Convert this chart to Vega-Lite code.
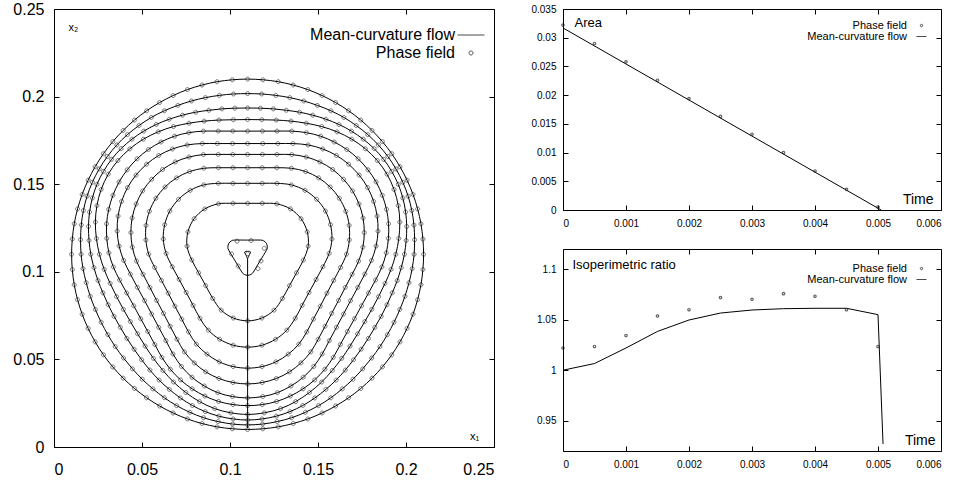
{
"$schema":"https://vega.github.io/schema/vega-lite/v6.json",
"padding":{"left":12,"top":0,"right":16,"bottom":5},
"config":{"font":"Liberation Sans","view":{"stroke":"black","strokeWidth":1},
"axis":{"grid":false,"domain":false,"tickColor":"black","tickWidth":1,"tickSize":-5,"labelColor":"black","titleColor":"black","labelFont":"Liberation Sans","titleFont":"Liberation Sans","titleFontWeight":"normal"},
"legend":{"orient":"none","title":null,"padding":0,"labelAlign":"right","labelColor":"black","labelFont":"Liberation Sans","labelLimit":400,"symbolStrokeColor":"black","symbolFillColor":"transparent","symbolStrokeWidth":1}},
"datasets":{
"curves":[
{"c":1,"a":0,"x":0.21,"y":0.11},{"c":1,"a":5,"x":0.2096,"y":0.1187},{"c":1,"a":10,"x":0.2085,"y":0.1274},{"c":1,"a":15,"x":0.2066,"y":0.1359},{"c":1,"a":20,"x":0.204,"y":0.1442},{"c":1,"a":25,"x":0.2006,"y":0.1523},{"c":1,"a":30,"x":0.1966,"y":0.16},{"c":1,"a":35,"x":0.1919,"y":0.1674},{"c":1,"a":40,"x":0.1866,"y":0.1743},{"c":1,"a":45,"x":0.1807,"y":0.1807},{"c":1,"a":50,"x":0.1743,"y":0.1866},{"c":1,"a":55,"x":0.1674,"y":0.1919},{"c":1,"a":60,"x":0.16,"y":0.1966},{"c":1,"a":65,"x":0.1523,"y":0.2006},{"c":1,"a":70,"x":0.1442,"y":0.204},{"c":1,"a":75,"x":0.1359,"y":0.2066},{"c":1,"a":80,"x":0.1274,"y":0.2085},{"c":1,"a":85,"x":0.1187,"y":0.2096},{"c":1,"a":90,"x":0.11,"y":0.21},{"c":1,"a":95,"x":0.1013,"y":0.2096},{"c":1,"a":100,"x":0.0926,"y":0.2085},{"c":1,"a":105,"x":0.0841,"y":0.2066},{"c":1,"a":110,"x":0.0758,"y":0.204},{"c":1,"a":115,"x":0.0677,"y":0.2006},{"c":1,"a":120,"x":0.06,"y":0.1966},{"c":1,"a":125,"x":0.0526,"y":0.1919},{"c":1,"a":130,"x":0.0457,"y":0.1866},{"c":1,"a":135,"x":0.0393,"y":0.1807},{"c":1,"a":140,"x":0.0334,"y":0.1743},{"c":1,"a":145,"x":0.0281,"y":0.1674},{"c":1,"a":150,"x":0.0234,"y":0.16},{"c":1,"a":155,"x":0.0194,"y":0.1523},{"c":1,"a":160,"x":0.016,"y":0.1442},{"c":1,"a":165,"x":0.0134,"y":0.1359},{"c":1,"a":170,"x":0.0115,"y":0.1274},{"c":1,"a":175,"x":0.0104,"y":0.1187},{"c":1,"a":180,"x":0.01,"y":0.11},{"c":1,"a":185,"x":0.0104,"y":0.1013},{"c":1,"a":190,"x":0.0115,"y":0.0926},{"c":1,"a":195,"x":0.0134,"y":0.0841},{"c":1,"a":200,"x":0.016,"y":0.0758},{"c":1,"a":205,"x":0.0194,"y":0.0677},{"c":1,"a":210,"x":0.0234,"y":0.06},{"c":1,"a":215,"x":0.0281,"y":0.0526},{"c":1,"a":220,"x":0.0334,"y":0.0457},{"c":1,"a":225,"x":0.0393,"y":0.0393},{"c":1,"a":230,"x":0.0457,"y":0.0334},{"c":1,"a":235,"x":0.0526,"y":0.0281},{"c":1,"a":240,"x":0.06,"y":0.0234},{"c":1,"a":245,"x":0.0677,"y":0.0194},{"c":1,"a":250,"x":0.0758,"y":0.016},{"c":1,"a":255,"x":0.0841,"y":0.0134},{"c":1,"a":260,"x":0.0926,"y":0.0115},{"c":1,"a":265,"x":0.1013,"y":0.0104},{"c":1,"a":270,"x":0.11,"y":0.01},{"c":1,"a":275,"x":0.1187,"y":0.0104},{"c":1,"a":280,"x":0.1274,"y":0.0115},{"c":1,"a":285,"x":0.1359,"y":0.0134},{"c":1,"a":290,"x":0.1442,"y":0.016},{"c":1,"a":295,"x":0.1523,"y":0.0194},{"c":1,"a":300,"x":0.16,"y":0.0234},{"c":1,"a":305,"x":0.1674,"y":0.0281},{"c":1,"a":310,"x":0.1743,"y":0.0334},{"c":1,"a":315,"x":0.1807,"y":0.0393},{"c":1,"a":320,"x":0.1866,"y":0.0457},{"c":1,"a":325,"x":0.1919,"y":0.0526},{"c":1,"a":330,"x":0.1966,"y":0.06},{"c":1,"a":335,"x":0.2006,"y":0.0677},{"c":1,"a":340,"x":0.204,"y":0.0758},{"c":1,"a":345,"x":0.2066,"y":0.0841},{"c":1,"a":350,"x":0.2085,"y":0.0926},{"c":1,"a":355,"x":0.2096,"y":0.1013},
{"c":2,"a":-90,"x":0.11,"y":0.0126},{"c":2,"a":-85,"x":0.1185,"y":0.0131},{"c":2,"a":-80,"x":0.1268,"y":0.0145},{"c":2,"a":-75,"x":0.135,"y":0.0167},{"c":2,"a":-70,"x":0.1428,"y":0.0198},{"c":2,"a":-65,"x":0.1503,"y":0.0236},{"c":2,"a":-60,"x":0.1573,"y":0.0281},{"c":2,"a":-55,"x":0.1638,"y":0.0332},{"c":2,"a":-50,"x":0.1699,"y":0.0387},{"c":2,"a":-45,"x":0.1754,"y":0.0446},{"c":2,"a":-40,"x":0.1805,"y":0.0508},{"c":2,"a":-35,"x":0.1852,"y":0.0573},{"c":2,"a":-30,"x":0.1894,"y":0.0641},{"c":2,"a":-25,"x":0.1932,"y":0.0712},{"c":2,"a":-20,"x":0.1965,"y":0.0785},{"c":2,"a":-15,"x":0.1994,"y":0.086},{"c":2,"a":-10,"x":0.2017,"y":0.0938},{"c":2,"a":-5,"x":0.2035,"y":0.1018},{"c":2,"a":0,"x":0.2046,"y":0.11},{"c":2,"a":5,"x":0.2049,"y":0.1183},{"c":2,"a":10,"x":0.2045,"y":0.1267},{"c":2,"a":15,"x":0.2033,"y":0.135},{"c":2,"a":20,"x":0.2012,"y":0.1432},{"c":2,"a":25,"x":0.1982,"y":0.1511},{"c":2,"a":30,"x":0.1943,"y":0.1587},{"c":2,"a":35,"x":0.1897,"y":0.1658},{"c":2,"a":40,"x":0.1843,"y":0.1724},{"c":2,"a":45,"x":0.1783,"y":0.1783},{"c":2,"a":50,"x":0.1717,"y":0.1835},{"c":2,"a":55,"x":0.1647,"y":0.1881},{"c":2,"a":60,"x":0.1573,"y":0.1919},{"c":2,"a":65,"x":0.1496,"y":0.195},{"c":2,"a":70,"x":0.1419,"y":0.1975},{"c":2,"a":75,"x":0.134,"y":0.1994},{"c":2,"a":80,"x":0.126,"y":0.2007},{"c":2,"a":85,"x":0.118,"y":0.2015},{"c":2,"a":90,"x":0.11,"y":0.2017},{"c":2,"a":95,"x":0.102,"y":0.2015},{"c":2,"a":100,"x":0.094,"y":0.2007},{"c":2,"a":105,"x":0.086,"y":0.1994},{"c":2,"a":110,"x":0.0781,"y":0.1975},{"c":2,"a":115,"x":0.0704,"y":0.195},{"c":2,"a":120,"x":0.0627,"y":0.1919},{"c":2,"a":125,"x":0.0553,"y":0.1881},{"c":2,"a":130,"x":0.0483,"y":0.1835},{"c":2,"a":135,"x":0.0417,"y":0.1783},{"c":2,"a":140,"x":0.0357,"y":0.1724},{"c":2,"a":145,"x":0.0303,"y":0.1658},{"c":2,"a":150,"x":0.0257,"y":0.1587},{"c":2,"a":155,"x":0.0218,"y":0.1511},{"c":2,"a":160,"x":0.0188,"y":0.1432},{"c":2,"a":165,"x":0.0167,"y":0.135},{"c":2,"a":170,"x":0.0155,"y":0.1267},{"c":2,"a":175,"x":0.0151,"y":0.1183},{"c":2,"a":180,"x":0.0154,"y":0.11},{"c":2,"a":185,"x":0.0165,"y":0.1018},{"c":2,"a":190,"x":0.0183,"y":0.0938},{"c":2,"a":195,"x":0.0206,"y":0.086},{"c":2,"a":200,"x":0.0235,"y":0.0785},{"c":2,"a":205,"x":0.0268,"y":0.0712},{"c":2,"a":210,"x":0.0306,"y":0.0641},{"c":2,"a":215,"x":0.0348,"y":0.0573},{"c":2,"a":220,"x":0.0395,"y":0.0508},{"c":2,"a":225,"x":0.0446,"y":0.0446},{"c":2,"a":230,"x":0.0501,"y":0.0387},{"c":2,"a":235,"x":0.0562,"y":0.0332},{"c":2,"a":240,"x":0.0627,"y":0.0281},{"c":2,"a":245,"x":0.0697,"y":0.0236},{"c":2,"a":250,"x":0.0772,"y":0.0198},{"c":2,"a":255,"x":0.085,"y":0.0167},{"c":2,"a":260,"x":0.0932,"y":0.0145},{"c":2,"a":265,"x":0.1015,"y":0.0131},
{"c":3,"a":-90,"x":0.11,"y":0.0154},{"c":3,"a":-85,"x":0.1182,"y":0.016},{"c":3,"a":-80,"x":0.1263,"y":0.0176},{"c":3,"a":-75,"x":0.1341,"y":0.0202},{"c":3,"a":-70,"x":0.1414,"y":0.0237},{"c":3,"a":-65,"x":0.1482,"y":0.028},{"c":3,"a":-60,"x":0.1545,"y":0.0329},{"c":3,"a":-55,"x":0.1603,"y":0.0382},{"c":3,"a":-50,"x":0.1655,"y":0.0439},{"c":3,"a":-45,"x":0.1702,"y":0.0498},{"c":3,"a":-40,"x":0.1745,"y":0.0558},{"c":3,"a":-35,"x":0.1786,"y":0.062},{"c":3,"a":-30,"x":0.1823,"y":0.0683},{"c":3,"a":-25,"x":0.1859,"y":0.0746},{"c":3,"a":-20,"x":0.1892,"y":0.0812},{"c":3,"a":-15,"x":0.1922,"y":0.088},{"c":3,"a":-10,"x":0.195,"y":0.095},{"c":3,"a":-5,"x":0.1973,"y":0.1024},{"c":3,"a":0,"x":0.1991,"y":0.11},{"c":3,"a":5,"x":0.2001,"y":0.1179},{"c":3,"a":10,"x":0.2004,"y":0.1259},{"c":3,"a":15,"x":0.1998,"y":0.1341},{"c":3,"a":20,"x":0.1982,"y":0.1421},{"c":3,"a":25,"x":0.1956,"y":0.1499},{"c":3,"a":30,"x":0.1919,"y":0.1573},{"c":3,"a":35,"x":0.1873,"y":0.1642},{"c":3,"a":40,"x":0.1819,"y":0.1703},{"c":3,"a":45,"x":0.1757,"y":0.1757},{"c":3,"a":50,"x":0.169,"y":0.1803},{"c":3,"a":55,"x":0.1619,"y":0.1841},{"c":3,"a":60,"x":0.1545,"y":0.1871},{"c":3,"a":65,"x":0.147,"y":0.1894},{"c":3,"a":70,"x":0.1395,"y":0.1911},{"c":3,"a":75,"x":0.132,"y":0.1922},{"c":3,"a":80,"x":0.1246,"y":0.193},{"c":3,"a":85,"x":0.1173,"y":0.1934},{"c":3,"a":90,"x":0.11,"y":0.1935},{"c":3,"a":95,"x":0.1027,"y":0.1934},{"c":3,"a":100,"x":0.0954,"y":0.193},{"c":3,"a":105,"x":0.088,"y":0.1922},{"c":3,"a":110,"x":0.0805,"y":0.1911},{"c":3,"a":115,"x":0.073,"y":0.1894},{"c":3,"a":120,"x":0.0655,"y":0.1871},{"c":3,"a":125,"x":0.0581,"y":0.1841},{"c":3,"a":130,"x":0.051,"y":0.1803},{"c":3,"a":135,"x":0.0443,"y":0.1757},{"c":3,"a":140,"x":0.0381,"y":0.1703},{"c":3,"a":145,"x":0.0327,"y":0.1642},{"c":3,"a":150,"x":0.0281,"y":0.1573},{"c":3,"a":155,"x":0.0244,"y":0.1499},{"c":3,"a":160,"x":0.0218,"y":0.1421},{"c":3,"a":165,"x":0.0202,"y":0.1341},{"c":3,"a":170,"x":0.0196,"y":0.1259},{"c":3,"a":175,"x":0.0199,"y":0.1179},{"c":3,"a":180,"x":0.0209,"y":0.11},{"c":3,"a":185,"x":0.0227,"y":0.1024},{"c":3,"a":190,"x":0.025,"y":0.095},{"c":3,"a":195,"x":0.0278,"y":0.088},{"c":3,"a":200,"x":0.0308,"y":0.0812},{"c":3,"a":205,"x":0.0341,"y":0.0746},{"c":3,"a":210,"x":0.0377,"y":0.0683},{"c":3,"a":215,"x":0.0414,"y":0.062},{"c":3,"a":220,"x":0.0455,"y":0.0558},{"c":3,"a":225,"x":0.0498,"y":0.0498},{"c":3,"a":230,"x":0.0545,"y":0.0439},{"c":3,"a":235,"x":0.0597,"y":0.0382},{"c":3,"a":240,"x":0.0655,"y":0.0329},{"c":3,"a":245,"x":0.0718,"y":0.028},{"c":3,"a":250,"x":0.0786,"y":0.0237},{"c":3,"a":255,"x":0.0859,"y":0.0202},{"c":3,"a":260,"x":0.0937,"y":0.0176},{"c":3,"a":265,"x":0.1018,"y":0.016},
{"c":4,"a":-90,"x":0.11,"y":0.0186},{"c":4,"a":-84,"x":0.1195,"y":0.0195},{"c":4,"a":-78,"x":0.1287,"y":0.0219},{"c":4,"a":-72,"x":0.1373,"y":0.0259},{"c":4,"a":-66,"x":0.1451,"y":0.0311},{"c":4,"a":-60,"x":0.1521,"y":0.0371},{"c":4,"a":-54,"x":0.1581,"y":0.0437},{"c":4,"a":-48,"x":0.1635,"y":0.0506},{"c":4,"a":-42,"x":0.1682,"y":0.0576},{"c":4,"a":-36,"x":0.1725,"y":0.0646},{"c":4,"a":-30,"x":0.1766,"y":0.0716},{"c":4,"a":-24,"x":0.1806,"y":0.0786},{"c":4,"a":-18,"x":0.1844,"y":0.0858},{"c":4,"a":-12,"x":0.1881,"y":0.0934},{"c":4,"a":-6,"x":0.1915,"y":0.1014},{"c":4,"a":0,"x":0.1942,"y":0.11},{"c":4,"a":6,"x":0.1959,"y":0.119},{"c":4,"a":12,"x":0.1965,"y":0.1284},{"c":4,"a":18,"x":0.1956,"y":0.1378},{"c":4,"a":24,"x":0.1932,"y":0.147},{"c":4,"a":30,"x":0.1892,"y":0.1557},{"c":4,"a":36,"x":0.1837,"y":0.1635},{"c":4,"a":42,"x":0.1769,"y":0.1702},{"c":4,"a":48,"x":0.1692,"y":0.1757},{"c":4,"a":54,"x":0.1608,"y":0.1799},{"c":4,"a":60,"x":0.1521,"y":0.1829},{"c":4,"a":66,"x":0.1433,"y":0.1848},{"c":4,"a":72,"x":0.1347,"y":0.186},{"c":4,"a":78,"x":0.1263,"y":0.1866},{"c":4,"a":84,"x":0.1181,"y":0.1868},{"c":4,"a":90,"x":0.11,"y":0.1869},{"c":4,"a":96,"x":0.1019,"y":0.1868},{"c":4,"a":102,"x":0.0937,"y":0.1866},{"c":4,"a":108,"x":0.0853,"y":0.186},{"c":4,"a":114,"x":0.0767,"y":0.1848},{"c":4,"a":120,"x":0.0679,"y":0.1829},{"c":4,"a":126,"x":0.0592,"y":0.1799},{"c":4,"a":132,"x":0.0508,"y":0.1757},{"c":4,"a":138,"x":0.0431,"y":0.1702},{"c":4,"a":144,"x":0.0363,"y":0.1635},{"c":4,"a":150,"x":0.0308,"y":0.1557},{"c":4,"a":156,"x":0.0268,"y":0.147},{"c":4,"a":162,"x":0.0244,"y":0.1378},{"c":4,"a":168,"x":0.0235,"y":0.1284},{"c":4,"a":174,"x":0.0241,"y":0.119},{"c":4,"a":180,"x":0.0258,"y":0.11},{"c":4,"a":186,"x":0.0285,"y":0.1014},{"c":4,"a":192,"x":0.0319,"y":0.0934},{"c":4,"a":198,"x":0.0356,"y":0.0858},{"c":4,"a":204,"x":0.0394,"y":0.0786},{"c":4,"a":210,"x":0.0434,"y":0.0716},{"c":4,"a":216,"x":0.0475,"y":0.0646},{"c":4,"a":222,"x":0.0518,"y":0.0576},{"c":4,"a":228,"x":0.0565,"y":0.0506},{"c":4,"a":234,"x":0.0619,"y":0.0437},{"c":4,"a":240,"x":0.0679,"y":0.0371},{"c":4,"a":246,"x":0.0749,"y":0.0311},{"c":4,"a":252,"x":0.0827,"y":0.0259},{"c":4,"a":258,"x":0.0913,"y":0.0219},{"c":4,"a":264,"x":0.1005,"y":0.0195},
{"c":5,"a":0,"x":0.11,"y":0.1803},{"c":5,"a":1,"x":0.1184,"y":0.1803},{"c":5,"a":2,"x":0.1267,"y":0.1803},{"c":5,"a":3,"x":0.1351,"y":0.1803},{"c":5,"a":4,"x":0.1434,"y":0.1794},{"c":5,"a":5,"x":0.1515,"y":0.1774},{"c":5,"a":6,"x":0.1592,"y":0.1741},{"c":5,"a":7,"x":0.1664,"y":0.1698},{"c":5,"a":8,"x":0.1728,"y":0.1645},{"c":5,"a":9,"x":0.1784,"y":0.1582},{"c":5,"a":10,"x":0.183,"y":0.1513},{"c":5,"a":11,"x":0.1865,"y":0.1437},{"c":5,"a":12,"x":0.1889,"y":0.1357},{"c":5,"a":13,"x":0.1901,"y":0.1274},{"c":5,"a":14,"x":0.19,"y":0.1191},{"c":5,"a":15,"x":0.1888,"y":0.1108},{"c":5,"a":16,"x":0.1863,"y":0.1028},{"c":5,"a":17,"x":0.1827,"y":0.0953},{"c":5,"a":18,"x":0.1787,"y":0.0879},{"c":5,"a":19,"x":0.1747,"y":0.0806},{"c":5,"a":20,"x":0.1707,"y":0.0732},{"c":5,"a":21,"x":0.1667,"y":0.0659},{"c":5,"a":22,"x":0.1627,"y":0.0585},{"c":5,"a":23,"x":0.1587,"y":0.0512},{"c":5,"a":24,"x":0.1539,"y":0.0444},{"c":5,"a":25,"x":0.1481,"y":0.0383},{"c":5,"a":26,"x":0.1415,"y":0.0332},{"c":5,"a":27,"x":0.1343,"y":0.0291},{"c":5,"a":28,"x":0.1265,"y":0.026},{"c":5,"a":29,"x":0.1183,"y":0.0242},{"c":5,"a":30,"x":0.11,"y":0.0236},{"c":5,"a":31,"x":0.1017,"y":0.0242},{"c":5,"a":32,"x":0.0935,"y":0.026},{"c":5,"a":33,"x":0.0857,"y":0.0291},{"c":5,"a":34,"x":0.0785,"y":0.0332},{"c":5,"a":35,"x":0.0719,"y":0.0383},{"c":5,"a":36,"x":0.0661,"y":0.0444},{"c":5,"a":37,"x":0.0613,"y":0.0512},{"c":5,"a":38,"x":0.0573,"y":0.0585},{"c":5,"a":39,"x":0.0533,"y":0.0659},{"c":5,"a":40,"x":0.0493,"y":0.0732},{"c":5,"a":41,"x":0.0453,"y":0.0806},{"c":5,"a":42,"x":0.0413,"y":0.0879},{"c":5,"a":43,"x":0.0373,"y":0.0953},{"c":5,"a":44,"x":0.0337,"y":0.1028},{"c":5,"a":45,"x":0.0312,"y":0.1108},{"c":5,"a":46,"x":0.03,"y":0.1191},{"c":5,"a":47,"x":0.0299,"y":0.1274},{"c":5,"a":48,"x":0.0311,"y":0.1357},{"c":5,"a":49,"x":0.0335,"y":0.1437},{"c":5,"a":50,"x":0.037,"y":0.1513},{"c":5,"a":51,"x":0.0416,"y":0.1582},{"c":5,"a":52,"x":0.0472,"y":0.1645},{"c":5,"a":53,"x":0.0536,"y":0.1698},{"c":5,"a":54,"x":0.0608,"y":0.1741},{"c":5,"a":55,"x":0.0685,"y":0.1774},{"c":5,"a":56,"x":0.0766,"y":0.1794},{"c":5,"a":57,"x":0.0849,"y":0.1803},{"c":5,"a":58,"x":0.0933,"y":0.1803},{"c":5,"a":59,"x":0.1016,"y":0.1803},
{"c":6,"a":0,"x":0.11,"y":0.1732},{"c":6,"a":1,"x":0.1186,"y":0.1732},{"c":6,"a":2,"x":0.1272,"y":0.1732},{"c":6,"a":3,"x":0.1358,"y":0.1732},{"c":6,"a":4,"x":0.1444,"y":0.1724},{"c":6,"a":5,"x":0.1527,"y":0.1701},{"c":6,"a":6,"x":0.1605,"y":0.1664},{"c":6,"a":7,"x":0.1674,"y":0.1614},{"c":6,"a":8,"x":0.1734,"y":0.1552},{"c":6,"a":9,"x":0.1782,"y":0.1481},{"c":6,"a":10,"x":0.1816,"y":0.1402},{"c":6,"a":11,"x":0.1836,"y":0.1318},{"c":6,"a":12,"x":0.1841,"y":0.1232},{"c":6,"a":13,"x":0.183,"y":0.1147},{"c":6,"a":14,"x":0.1804,"y":0.1065},{"c":6,"a":15,"x":0.1766,"y":0.0987},{"c":6,"a":16,"x":0.1726,"y":0.0911},{"c":6,"a":17,"x":0.1685,"y":0.0835},{"c":6,"a":18,"x":0.1645,"y":0.0759},{"c":6,"a":19,"x":0.1605,"y":0.0683},{"c":6,"a":20,"x":0.1564,"y":0.0607},{"c":6,"a":21,"x":0.1524,"y":0.0531},{"c":6,"a":22,"x":0.1476,"y":0.046},{"c":6,"a":23,"x":0.1416,"y":0.0398},{"c":6,"a":24,"x":0.1346,"y":0.0348},{"c":6,"a":25,"x":0.1269,"y":0.031},{"c":6,"a":26,"x":0.1186,"y":0.0288},{"c":6,"a":27,"x":0.11,"y":0.028},{"c":6,"a":28,"x":0.1014,"y":0.0288},{"c":6,"a":29,"x":0.0931,"y":0.031},{"c":6,"a":30,"x":0.0854,"y":0.0348},{"c":6,"a":31,"x":0.0784,"y":0.0398},{"c":6,"a":32,"x":0.0724,"y":0.046},{"c":6,"a":33,"x":0.0676,"y":0.0531},{"c":6,"a":34,"x":0.0636,"y":0.0607},{"c":6,"a":35,"x":0.0595,"y":0.0683},{"c":6,"a":36,"x":0.0555,"y":0.0759},{"c":6,"a":37,"x":0.0515,"y":0.0835},{"c":6,"a":38,"x":0.0474,"y":0.0911},{"c":6,"a":39,"x":0.0434,"y":0.0987},{"c":6,"a":40,"x":0.0396,"y":0.1065},{"c":6,"a":41,"x":0.037,"y":0.1147},{"c":6,"a":42,"x":0.0359,"y":0.1232},{"c":6,"a":43,"x":0.0364,"y":0.1318},{"c":6,"a":44,"x":0.0384,"y":0.1402},{"c":6,"a":45,"x":0.0418,"y":0.1481},{"c":6,"a":46,"x":0.0466,"y":0.1552},{"c":6,"a":47,"x":0.0526,"y":0.1614},{"c":6,"a":48,"x":0.0595,"y":0.1664},{"c":6,"a":49,"x":0.0673,"y":0.1701},{"c":6,"a":50,"x":0.0756,"y":0.1724},{"c":6,"a":51,"x":0.0842,"y":0.1732},{"c":6,"a":52,"x":0.0928,"y":0.1732},{"c":6,"a":53,"x":0.1014,"y":0.1732},
{"c":7,"a":0,"x":0.11,"y":0.167},{"c":7,"a":1,"x":0.1184,"y":0.167},{"c":7,"a":2,"x":0.1267,"y":0.167},{"c":7,"a":3,"x":0.1351,"y":0.1669},{"c":7,"a":4,"x":0.1433,"y":0.1655},{"c":7,"a":5,"x":0.1511,"y":0.1627},{"c":7,"a":6,"x":0.1583,"y":0.1584},{"c":7,"a":7,"x":0.1645,"y":0.1528},{"c":7,"a":8,"x":0.1696,"y":0.1462},{"c":7,"a":9,"x":0.1733,"y":0.1387},{"c":7,"a":10,"x":0.1756,"y":0.1307},{"c":7,"a":11,"x":0.1763,"y":0.1224},{"c":7,"a":12,"x":0.1755,"y":0.1141},{"c":7,"a":13,"x":0.1731,"y":0.1061},{"c":7,"a":14,"x":0.1694,"y":0.0986},{"c":7,"a":15,"x":0.1655,"y":0.0911},{"c":7,"a":16,"x":0.1617,"y":0.0837},{"c":7,"a":17,"x":0.1578,"y":0.0763},{"c":7,"a":18,"x":0.154,"y":0.0689},{"c":7,"a":19,"x":0.1501,"y":0.0615},{"c":7,"a":20,"x":0.1459,"y":0.0543},{"c":7,"a":21,"x":0.1403,"y":0.048},{"c":7,"a":22,"x":0.1338,"y":0.0429},{"c":7,"a":23,"x":0.1263,"y":0.0391},{"c":7,"a":24,"x":0.1183,"y":0.0368},{"c":7,"a":25,"x":0.11,"y":0.036},{"c":7,"a":26,"x":0.1017,"y":0.0368},{"c":7,"a":27,"x":0.0937,"y":0.0391},{"c":7,"a":28,"x":0.0862,"y":0.0429},{"c":7,"a":29,"x":0.0797,"y":0.048},{"c":7,"a":30,"x":0.0741,"y":0.0543},{"c":7,"a":31,"x":0.0699,"y":0.0615},{"c":7,"a":32,"x":0.066,"y":0.0689},{"c":7,"a":33,"x":0.0622,"y":0.0763},{"c":7,"a":34,"x":0.0583,"y":0.0837},{"c":7,"a":35,"x":0.0545,"y":0.0911},{"c":7,"a":36,"x":0.0506,"y":0.0986},{"c":7,"a":37,"x":0.0469,"y":0.1061},{"c":7,"a":38,"x":0.0445,"y":0.1141},{"c":7,"a":39,"x":0.0437,"y":0.1224},{"c":7,"a":40,"x":0.0444,"y":0.1307},{"c":7,"a":41,"x":0.0467,"y":0.1387},{"c":7,"a":42,"x":0.0504,"y":0.1462},{"c":7,"a":43,"x":0.0555,"y":0.1528},{"c":7,"a":44,"x":0.0617,"y":0.1584},{"c":7,"a":45,"x":0.0689,"y":0.1627},{"c":7,"a":46,"x":0.0767,"y":0.1655},{"c":7,"a":47,"x":0.0849,"y":0.1669},{"c":7,"a":48,"x":0.0933,"y":0.167},{"c":7,"a":49,"x":0.1016,"y":0.167},
{"c":8,"a":0,"x":0.11,"y":0.1594},{"c":8,"a":1,"x":0.1183,"y":0.1594},{"c":8,"a":2,"x":0.1266,"y":0.1594},{"c":8,"a":3,"x":0.1349,"y":0.1591},{"c":8,"a":4,"x":0.143,"y":0.1572},{"c":8,"a":5,"x":0.1504,"y":0.1536},{"c":8,"a":6,"x":0.1569,"y":0.1484},{"c":8,"a":7,"x":0.1621,"y":0.142},{"c":8,"a":8,"x":0.1658,"y":0.1345},{"c":8,"a":9,"x":0.1677,"y":0.1265},{"c":8,"a":10,"x":0.1678,"y":0.1182},{"c":8,"a":11,"x":0.1662,"y":0.1101},{"c":8,"a":12,"x":0.1628,"y":0.1025},{"c":8,"a":13,"x":0.1589,"y":0.0951},{"c":8,"a":14,"x":0.1551,"y":0.0878},{"c":8,"a":15,"x":0.1513,"y":0.0804},{"c":8,"a":16,"x":0.1474,"y":0.073},{"c":8,"a":17,"x":0.1436,"y":0.0657},{"c":8,"a":18,"x":0.1391,"y":0.0587},{"c":8,"a":19,"x":0.1331,"y":0.053},{"c":8,"a":20,"x":0.1261,"y":0.0486},{"c":8,"a":21,"x":0.1182,"y":0.0459},{"c":8,"a":22,"x":0.11,"y":0.045},{"c":8,"a":23,"x":0.1018,"y":0.0459},{"c":8,"a":24,"x":0.0939,"y":0.0486},{"c":8,"a":25,"x":0.0869,"y":0.053},{"c":8,"a":26,"x":0.0809,"y":0.0587},{"c":8,"a":27,"x":0.0764,"y":0.0657},{"c":8,"a":28,"x":0.0726,"y":0.073},{"c":8,"a":29,"x":0.0687,"y":0.0804},{"c":8,"a":30,"x":0.0649,"y":0.0878},{"c":8,"a":31,"x":0.0611,"y":0.0951},{"c":8,"a":32,"x":0.0572,"y":0.1025},{"c":8,"a":33,"x":0.0538,"y":0.1101},{"c":8,"a":34,"x":0.0522,"y":0.1182},{"c":8,"a":35,"x":0.0523,"y":0.1265},{"c":8,"a":36,"x":0.0542,"y":0.1345},{"c":8,"a":37,"x":0.0579,"y":0.142},{"c":8,"a":38,"x":0.0631,"y":0.1484},{"c":8,"a":39,"x":0.0696,"y":0.1536},{"c":8,"a":40,"x":0.077,"y":0.1572},{"c":8,"a":41,"x":0.0851,"y":0.1591},{"c":8,"a":42,"x":0.0934,"y":0.1594},{"c":8,"a":43,"x":0.1017,"y":0.1594},
{"c":9,"a":0,"x":0.11,"y":0.1505},{"c":9,"a":1,"x":0.1183,"y":0.1505},{"c":9,"a":2,"x":0.1267,"y":0.1505},{"c":9,"a":3,"x":0.1349,"y":0.1496},{"c":9,"a":4,"x":0.1426,"y":0.1465},{"c":9,"a":5,"x":0.1492,"y":0.1414},{"c":9,"a":6,"x":0.1542,"y":0.1347},{"c":9,"a":7,"x":0.1571,"y":0.1269},{"c":9,"a":8,"x":0.1579,"y":0.1187},{"c":9,"a":9,"x":0.1563,"y":0.1105},{"c":9,"a":10,"x":0.1528,"y":0.1029},{"c":9,"a":11,"x":0.1489,"y":0.0956},{"c":9,"a":12,"x":0.1449,"y":0.0882},{"c":9,"a":13,"x":0.141,"y":0.0809},{"c":9,"a":14,"x":0.1371,"y":0.0735},{"c":9,"a":15,"x":0.1323,"y":0.0667},{"c":9,"a":16,"x":0.1259,"y":0.0615},{"c":9,"a":17,"x":0.1182,"y":0.0581},{"c":9,"a":18,"x":0.11,"y":0.057},{"c":9,"a":19,"x":0.1018,"y":0.0581},{"c":9,"a":20,"x":0.0941,"y":0.0615},{"c":9,"a":21,"x":0.0877,"y":0.0667},{"c":9,"a":22,"x":0.0829,"y":0.0735},{"c":9,"a":23,"x":0.079,"y":0.0809},{"c":9,"a":24,"x":0.0751,"y":0.0882},{"c":9,"a":25,"x":0.0711,"y":0.0956},{"c":9,"a":26,"x":0.0672,"y":0.1029},{"c":9,"a":27,"x":0.0637,"y":0.1105},{"c":9,"a":28,"x":0.0621,"y":0.1187},{"c":9,"a":29,"x":0.0629,"y":0.1269},{"c":9,"a":30,"x":0.0658,"y":0.1347},{"c":9,"a":31,"x":0.0708,"y":0.1414},{"c":9,"a":32,"x":0.0774,"y":0.1465},{"c":9,"a":33,"x":0.0851,"y":0.1496},{"c":9,"a":34,"x":0.0933,"y":0.1505},{"c":9,"a":35,"x":0.1017,"y":0.1505},
{"c":10,"a":0,"x":0.11,"y":0.1391},{"c":10,"a":1,"x":0.1183,"y":0.1391},{"c":10,"a":2,"x":0.1266,"y":0.1388},{"c":10,"a":3,"x":0.1343,"y":0.1359},{"c":10,"a":4,"x":0.1404,"y":0.1303},{"c":10,"a":5,"x":0.1439,"y":0.1228},{"c":10,"a":6,"x":0.1444,"y":0.1146},{"c":10,"a":7,"x":0.1417,"y":0.1067},{"c":10,"a":8,"x":0.1378,"y":0.0994},{"c":10,"a":9,"x":0.1338,"y":0.0921},{"c":10,"a":10,"x":0.1298,"y":0.0848},{"c":10,"a":11,"x":0.125,"y":0.0781},{"c":10,"a":12,"x":0.1181,"y":0.0736},{"c":10,"a":13,"x":0.11,"y":0.072},{"c":10,"a":14,"x":0.1019,"y":0.0736},{"c":10,"a":15,"x":0.095,"y":0.0781},{"c":10,"a":16,"x":0.0902,"y":0.0848},{"c":10,"a":17,"x":0.0862,"y":0.0921},{"c":10,"a":18,"x":0.0822,"y":0.0994},{"c":10,"a":19,"x":0.0783,"y":0.1067},{"c":10,"a":20,"x":0.0756,"y":0.1146},{"c":10,"a":21,"x":0.0761,"y":0.1228},{"c":10,"a":22,"x":0.0796,"y":0.1303},{"c":10,"a":23,"x":0.0857,"y":0.1359},{"c":10,"a":24,"x":0.0934,"y":0.1388},{"c":10,"a":25,"x":0.1017,"y":0.1391},
{"c":11,"d":0,"a":0,"x":0.11,"y":0.1181},{"c":11,"d":0,"a":1,"x":0.1173,"y":0.1181},{"c":11,"d":0,"a":2,"x":0.1193,"y":0.1176},{"c":11,"d":0,"a":3,"x":0.1207,"y":0.1162},{"c":11,"d":0,"a":4,"x":0.1212,"y":0.1142},{"c":11,"d":0,"a":5,"x":0.1207,"y":0.1123},{"c":11,"d":0,"a":6,"x":0.117,"y":0.1061},{"c":11,"d":0,"a":7,"x":0.1133,"y":0.0999},{"c":11,"d":0,"a":8,"x":0.1119,"y":0.0985},{"c":11,"d":0,"a":9,"x":0.11,"y":0.098},{"c":11,"d":0,"a":10,"x":0.1081,"y":0.0985},{"c":11,"d":0,"a":11,"x":0.1067,"y":0.0999},{"c":11,"d":0,"a":12,"x":0.103,"y":0.1061},{"c":11,"d":0,"a":13,"x":0.0993,"y":0.1123},{"c":11,"d":0,"a":14,"x":0.0988,"y":0.1142},{"c":11,"d":0,"a":15,"x":0.0993,"y":0.1162},{"c":11,"d":0,"a":16,"x":0.1007,"y":0.1176},{"c":11,"d":0,"a":17,"x":0.1027,"y":0.1181},
{"c":11,"d":2,"x":0.104,"y":0.1175},{"c":11,"d":2,"x":0.112,"y":0.1178},{"c":11,"d":2,"x":0.1195,"y":0.1134},{"c":11,"d":2,"x":0.1009,"y":0.1102},{"c":11,"d":2,"x":0.1176,"y":0.1062},{"c":11,"d":2,"x":0.1047,"y":0.1033},{"c":11,"d":2,"x":0.1159,"y":0.1018},
{"c":12,"d":0,"a":-90,"x":0.11,"y":0.1077},{"c":12,"d":0,"a":-30,"x":0.1108,"y":0.1093},{"c":12,"d":0,"a":30,"x":0.1117,"y":0.1113},{"c":12,"d":0,"a":90,"x":0.11,"y":0.1117},{"c":12,"d":0,"a":150,"x":0.1083,"y":0.1113},{"c":12,"d":0,"a":210,"x":0.1092,"y":0.1093},
{"c":12,"d":2,"x":0.11,"y":0.1103}
],
"areaPF":[{"t":0,"v":0.0322},{"t":0.0005,"v":0.029},{"t":0.001,"v":0.0258},{"t":0.0015,"v":0.0226},{"t":0.002,"v":0.0194},{"t":0.0025,"v":0.0163},{"t":0.003,"v":0.0132},{"t":0.0035,"v":0.01},{"t":0.004,"v":0.0068},{"t":0.0045,"v":0.0036},{"t":0.005,"v":0.0005}],
"areaMCF":[{"t":0,"v":0.0317},{"t":0.00505,"v":0}],
"isoPF":[{"t":0,"v":1.0219},{"t":0.0005,"v":1.0235},{"t":0.001,"v":1.0344},{"t":0.0015,"v":1.0536},{"t":0.002,"v":1.0599},{"t":0.0025,"v":1.0719},{"t":0.003,"v":1.0702},{"t":0.0035,"v":1.0758},{"t":0.004,"v":1.0732},{"t":0.0045,"v":1.0599},{"t":0.005,"v":1.0235}],
"isoMCF":[{"t":0,"v":1.0},{"t":0.0005,"v":1.0066},{"t":0.001,"v":1.022},{"t":0.0015,"v":1.0384},{"t":0.002,"v":1.0497},{"t":0.0025,"v":1.0566},{"t":0.003,"v":1.0596},{"t":0.0035,"v":1.0609},{"t":0.004,"v":1.0613},{"t":0.0045,"v":1.0613},{"t":0.005,"v":1.055},{"t":0.00508,"v":0.927}]
},
"hconcat":[
{"width":440,"height":438,
"layer":[
{"data":{"name":"curves"},"transform":[{"filter":"datum.d !== 2"}],
"mark":{"type":"line","interpolate":"cardinal-closed","stroke":"black","strokeWidth":1},
"encoding":{
"x":{"field":"x","type":"quantitative","scale":{"domain":[0,0.25],"nice":false,"zero":false},"axis":{"orient":"bottom","values":[0,0.05,0.1,0.15,0.2,0.25],"format":"~g","labelFontSize":16,"labelPadding":19,"title":"x₁","titleFontSize":11,"titleX":420,"titleY":-11,"titleAlign":"center","titleBaseline":"middle"}},
"y":{"field":"y","type":"quantitative","scale":{"domain":[0,0.25],"nice":false,"zero":false},"axis":{"orient":"left","values":[0,0.05,0.1,0.15,0.2,0.25],"format":"~g","labelFontSize":16,"labelPadding":15,"title":"x₂","titleFontSize":11,"titleAngle":0,"titleX":19,"titleY":18,"titleAlign":"center","titleBaseline":"middle"}},
"detail":{"field":"c","type":"nominal"},
"order":{"field":"a","type":"quantitative"}}},
{"data":{"name":"curves"},"transform":[{"filter":"datum.d !== 0"}],
"mark":{"type":"point","filled":false,"stroke":"#222222","strokeWidth":0.9,"size":25},
"encoding":{
"x":{"field":"x","type":"quantitative","axis":null},
"y":{"field":"y","type":"quantitative","axis":null},
"shape":{"datum":"Phase field","type":"nominal","scale":{"domain":["Mean-curvature flow","Phase field"],"range":["M-5.4,0H5.4","M0.8,0A0.8,0.8,0,1,1,-0.8,0A0.8,0.8,0,1,1,0.8,0"]},
"legend":{"legendX":409,"legendY":18,"labelOffset":-24,"labelFontSize":16,"symbolSize":25,"rowPadding":2}}}},
{"data":{"values":[{"x":0.11,"y":0.0106},{"x":0.11,"y":0.1077}]},
"mark":{"type":"line","stroke":"black","strokeWidth":1},
"encoding":{
"x":{"field":"x","type":"quantitative","axis":{"orient":"top","values":[0,0.05,0.1,0.15,0.2,0.25],"labels":false,"title":null}},
"y":{"field":"y","type":"quantitative","axis":{"orient":"right","values":[0,0.05,0.1,0.15,0.2,0.25],"labels":false,"title":null}}}}
],
"resolve":{"axis":{"x":"independent","y":"independent"}}},
{"vconcat":[
{"width":378,"height":201,
"layer":[
{"data":{"name":"areaMCF"},"mark":{"type":"line","stroke":"black","strokeWidth":1},
"encoding":{
"x":{"field":"t","type":"quantitative","scale":{"domain":[0,0.006],"nice":false,"zero":false},"axis":{"orient":"top","values":[0,0.001,0.002,0.003,0.004,0.005,0.006],"labels":false,"title":null}},
"y":{"field":"v","type":"quantitative","scale":{"domain":[0,0.035],"nice":false,"zero":false},"axis":{"orient":"right","values":[0,0.005,0.01,0.015,0.02,0.025,0.03,0.035],"labels":false,"title":null}}}},
{"data":{"name":"areaPF"},"mark":{"type":"point","filled":false,"stroke":"#222222","strokeWidth":1.2,"size":100},
"encoding":{
"x":{"field":"t","type":"quantitative","axis":{"orient":"bottom","values":[0,0.001,0.002,0.003,0.004,0.005,0.006],"format":"~g","labelFontSize":10,"labelPadding":13,"title":"Time","titleFontSize":14,"titleX":370,"titleY":-11,"titleAlign":"right","titleBaseline":"middle"}},
"y":{"field":"v","type":"quantitative","axis":{"orient":"left","values":[0,0.005,0.01,0.015,0.02,0.025,0.03,0.035],"format":"~g","labelFontSize":10,"labelPadding":12,"title":"Area","titleFontSize":13,"titleAngle":0,"titleX":11,"titleY":13,"titleAlign":"left","titleBaseline":"middle"}},
"shape":{"datum":"Phase field","type":"nominal","scale":{"domain":["Phase field","Mean-curvature flow"],"range":["M0.24,0A0.24,0.24,0,1,1,-0.24,0A0.24,0.24,0,1,1,0.24,0","M-1,0H1"]},
"legend":{"legendX":353,"legendY":11,"labelOffset":-20,"labelFontSize":11,"symbolSize":100,"rowPadding":-4}}}}
],
"resolve":{"axis":{"x":"independent","y":"independent"}}},
{"width":378,"height":202,
"layer":[
{"data":{"name":"isoMCF"},"mark":{"type":"line","stroke":"black","strokeWidth":1},
"encoding":{
"x":{"field":"t","type":"quantitative","scale":{"domain":[0,0.006],"nice":false,"zero":false},"axis":{"orient":"top","values":[0,0.001,0.002,0.003,0.004,0.005,0.006],"labels":false,"title":null}},
"y":{"field":"v","type":"quantitative","scale":{"domain":[0.92,1.12],"nice":false,"zero":false},"axis":{"orient":"right","values":[0.95,1,1.05,1.1],"labels":false,"title":null}}}},
{"data":{"name":"isoPF"},"mark":{"type":"point","filled":false,"stroke":"#222222","strokeWidth":1.2,"size":100},
"encoding":{
"x":{"field":"t","type":"quantitative","axis":{"orient":"bottom","values":[0,0.001,0.002,0.003,0.004,0.005,0.006],"format":"~g","labelFontSize":10,"labelPadding":13,"title":"Time","titleFontSize":14,"titleX":372,"titleY":-11,"titleAlign":"right","titleBaseline":"middle"}},
"y":{"field":"v","type":"quantitative","axis":{"orient":"left","values":[0.95,1,1.05,1.1],"format":"~g","labelFontSize":10,"labelPadding":12,"title":"Isoperimetric ratio","titleFontSize":13,"titleAngle":0,"titleX":9,"titleY":15,"titleAlign":"left","titleBaseline":"middle"}},
"shape":{"datum":"Phase field","type":"nominal","scale":{"domain":["Phase field","Mean-curvature flow"],"range":["M0.24,0A0.24,0.24,0,1,1,-0.24,0A0.24,0.24,0,1,1,0.24,0","M-1,0H1"]},
"legend":{"legendX":353,"legendY":14,"labelOffset":-20,"labelFontSize":11,"symbolSize":100,"rowPadding":-4}}}}
],
"resolve":{"axis":{"x":"independent","y":"independent"}}}
],
"spacing":39,"bounds":"flush",
"resolve":{"scale":{"shape":"independent"},"legend":{"shape":"independent"}}}
],
"spacing":69,"bounds":"flush",
"resolve":{"scale":{"shape":"independent"},"legend":{"shape":"independent"}}
}
